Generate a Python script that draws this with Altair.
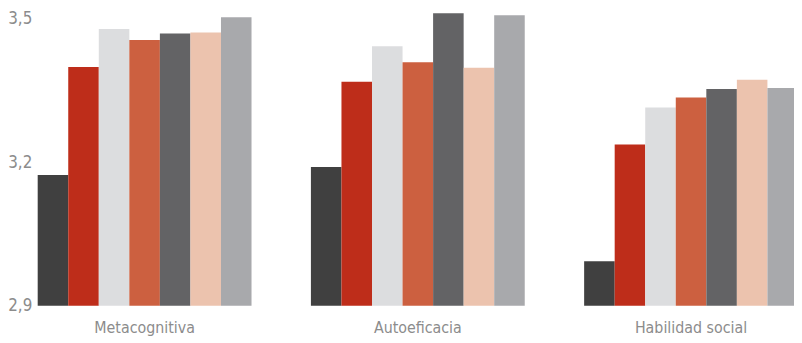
import altair as alt
import pandas as pd

categories = ["Metacognitiva", "Autoeficacia", "Habilidad social"]
series = ["S1", "S2", "S3", "S4", "S5", "S6", "S7"]
colors = ["#404040", "#BE2D1A", "#DCDDDF", "#CC6040", "#636365", "#ECC3AE", "#A8A9AC"]
values = {
    "Metacognitiva":    [3.173, 3.399, 3.478, 3.455, 3.469, 3.471, 3.503],
    "Autoeficacia":     [3.190, 3.368, 3.442, 3.409, 3.511, 3.397, 3.507],
    "Habilidad social": [2.993, 3.237, 3.314, 3.335, 3.353, 3.372, 3.355],
}
y_ticks = [2.9, 3.2, 3.5]
base_value = 2.9

rows = []
for c in categories:
    for s, v in zip(series, values[c]):
        rows.append({"cat": c, "serie": s, "valor": v})
df = pd.DataFrame(rows)

FONT = "DejaVu Sans Condensed, sans-serif"

chart = alt.Chart(df).mark_bar().encode(
    x=alt.X("cat:N", sort=categories,
            scale=alt.Scale(paddingInner=0.2174, paddingOuter=0, range=[0, 768]),
            axis=alt.Axis(title=None, labelAngle=0, domain=False, ticks=False,
                          labelPadding=14, labelFontSize=16, labelColor="#8c8c8c",
                          labelFont=FONT)),
    xOffset=alt.XOffset("serie:N", sort=series,
                        scale=alt.Scale(paddingInner=0, paddingOuter=0)),
    y=alt.Y("valor:Q", scale=alt.Scale(domain=[2.9, 3.5], nice=False, zero=False),
            axis=alt.Axis(title=None, values=y_ticks, grid=False, domain=False, ticks=False,
                          labelExpr="replace(format(datum.value, '.1f'), '.', ',')",
                          labelPadding=6, labelFontSize=17, labelColor="#8c8c8c",
                          labelFont=FONT)),
    y2=alt.datum(base_value),
    color=alt.Color("serie:N", sort=series,
                    scale=alt.Scale(domain=series, range=colors), legend=None),
).properties(
    width=764, height=290,
    autosize=alt.AutoSizeParams(type="none"),
    padding={"left": 30, "top": 9, "right": 0, "bottom": 34},
).configure_view(stroke=None)

chart.save("out.html", embed_options={"renderer": "svg", "actions": False})
